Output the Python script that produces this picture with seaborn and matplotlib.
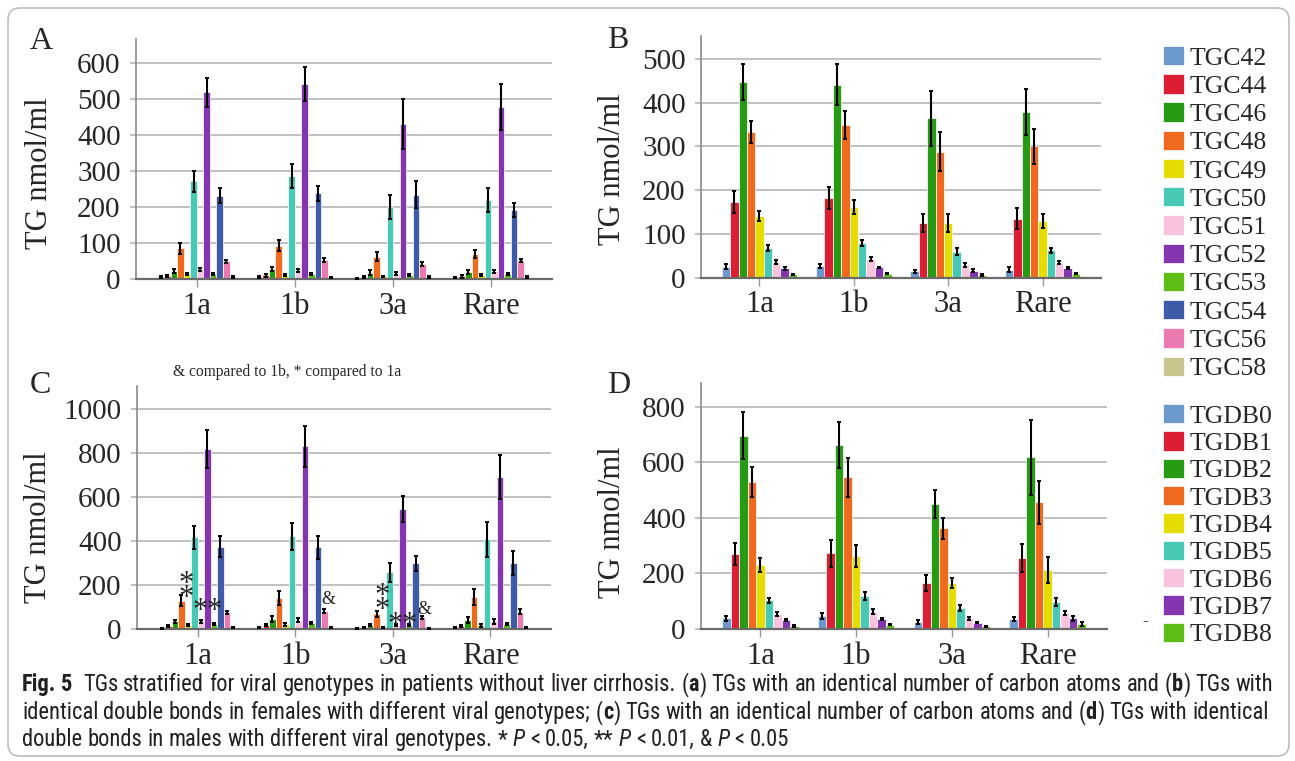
import numpy as np
import pandas as pd
import matplotlib
matplotlib.use('Agg')
import matplotlib.pyplot as plt
import seaborn as sns
from matplotlib import font_manager
from matplotlib.patches import FancyBboxPatch
from matplotlib.transforms import IdentityTransform

genotypes = ['1a', '1b', '3a', 'Rare']
tgc_labels = ['TGC42', 'TGC44', 'TGC46', 'TGC48', 'TGC49', 'TGC50',
              'TGC51', 'TGC52', 'TGC53', 'TGC54', 'TGC56', 'TGC58']
tgdb_labels = ['TGDB0', 'TGDB1', 'TGDB2', 'TGDB3', 'TGDB4',
               'TGDB5', 'TGDB6', 'TGDB7', 'TGDB8']
colors = ['#6b98cd', '#dc1e35', '#259a12', '#ef6a1e', '#e6dc00', '#47c9b4',
          '#f9c3de', '#8436b0', '#5dbd14', '#3f5aa8', '#ea7bb0', '#c9c58e']

# rows = series, columns = genotypes (1a, 1b, 3a, Rare)
# A: females, carbon atoms
a_mean = [[5, 5, 2, 4], [9, 10, 6, 7], [23, 28, 18, 19], [85, 93, 62, 69],
          [14, 12, 7, 10], [272, 286, 200, 219], [26, 24, 15, 21],
          [519, 542, 430, 477], [15, 14, 10, 14], [232, 238, 234, 192],
          [49, 53, 41, 51], [5, 4, 5, 6]]
a_err = [[2, 2, 1, 2], [3, 4, 3, 3], [6, 6, 6, 6], [15, 16, 13, 12],
         [3, 3, 2, 3], [29, 33, 33, 33], [4, 4, 5, 5], [40, 47, 70, 64],
         [3, 3, 3, 3], [20, 21, 38, 20], [5, 5, 6, 5], [2, 2, 2, 2]]

# B: females, double bonds
b_mean = [[26, 27, 15, 19], [173, 183, 125, 135], [447, 441, 364, 379],
          [333, 349, 288, 300], [141, 162, 126, 129], [69, 80, 60, 63],
          [37, 43, 30, 35], [22, 24, 17, 23], [8, 10, 7, 10]]
b_err = [[6, 5, 4, 5], [25, 25, 20, 24], [41, 47, 63, 53], [25, 31, 45, 40],
         [12, 17, 21, 16], [7, 7, 8, 6], [5, 4, 5, 4], [3, 2, 3, 3],
         [1.5, 1.5, 1.5, 2]]

# C: males, carbon atoms
c_mean = [[3, 8, 3, 7], [12, 18, 8, 15], [35, 45, 18, 42], [129, 140, 70, 146],
          [17, 21, 8, 18], [418, 421, 257, 408], [35, 40, 20, 35],
          [819, 831, 546, 693], [23, 26, 17, 23], [375, 372, 298, 301],
          [76, 80, 53, 79], [6, 6, 4, 6]]
c_err = [[2, 3, 1, 3], [4, 6, 3, 5], [8, 12, 5, 13], [24, 31, 14, 35],
         [5, 6, 2, 7], [52, 63, 42, 80], [7, 8, 5, 10], [88, 94, 60, 100],
         [5, 4, 4, 6], [49, 52, 35, 55], [8, 9, 7, 13], [3, 2, 2, 3]]

# D: males, double bonds
d_mean = [[38, 47, 25, 37], [270, 272, 165, 256], [696, 662, 451, 618],
          [530, 546, 362, 456], [231, 262, 164, 213], [103, 120, 75, 97],
          [53, 63, 38, 57], [32, 36, 23, 38], [12, 16, 10, 18]]
d_err = [[8, 12, 8, 7], [40, 48, 28, 50], [84, 83, 50, 135], [55, 70, 38, 78],
         [25, 40, 18, 48], [10, 15, 10, 15], [7, 8, 6, 7], [4, 5, 3, 8],
         [3, 3, 2, 6]]

# significance marks in C: (genotype index, x offset, value, text)
c_marks = [(0, -0.112, 209, '*\n*'),
           (0, 0.03, 118, '*'), (0, 0.173, 118, '*'),
           (1, 0.337, 141, '&'),
           (2, -0.112, 152, '*\n*'),
           (2, 0.02, 55, '*'), (2, 0.163, 55, '*'),
           (2, 0.327, 95, '&')]

sns.set_theme(style='white')
plt.rcParams['font.family'] = ['Liberation Serif', 'DejaVu Serif']

W, H = 1295, 761
fig = plt.figure(figsize=(W / 100, H / 100), dpi=100)


def px_axes(left, top, right, bottom):
    return fig.add_axes([left / W, 1 - bottom / H, (right - left) / W, (bottom - top) / H])


def panel(ax, means, errs, labels, ymax, ystep, legend):
    rows = [(g, lab, means[i][j]) for i, lab in enumerate(labels) for j, g in enumerate(genotypes)]
    df = pd.DataFrame(rows, columns=['genotype', 'species', 'value'])
    sns.barplot(data=df, x='genotype', y='value', hue='species', order=genotypes,
                hue_order=labels, palette=colors[:len(labels)], errorbar=None,
                saturation=1, width=0.8, edgecolor='white', linewidth=0.5,
                legend=legend, ax=ax)
    bar_sets = list(ax.containers)
    for i, bars in enumerate(bar_sets):
        xs = [b.get_x() + b.get_width() / 2 for b in bars]
        ys = [b.get_height() for b in bars]
        ax.errorbar(xs, ys, yerr=errs[i], fmt='none', ecolor='black',
                    elinewidth=1.5, capsize=1.6, capthick=1.4, zorder=4)
    ax.set_xlim(-0.62, 3.62)
    ax.set_ylim(0, ymax)
    ax.set_yticks(np.arange(0, ymax, ystep))
    ax.set_xlabel('')
    ax.set_ylabel('TG nmol/ml', fontsize=22)
    ax.yaxis.grid(True, color='#c0c0c0', linewidth=1.4)
    ax.set_axisbelow(True)
    for s in ['top', 'right']:
        ax.spines[s].set_visible(False)
    ax.spines['left'].set_color('#8a8a8a')
    ax.spines['left'].set_linewidth(1.2)
    ax.spines['bottom'].set_color('#6a6a6a')
    ax.spines['bottom'].set_linewidth(1.6)
    ax.tick_params(axis='x', length=6, width=1, color='#999999', pad=3, labelsize=22, bottom=True)
    ax.tick_params(axis='y', length=4, width=1.4, color='#c0c0c0', pad=7, labelsize=21, left=True)
    ax.set_facecolor('white')
    return ax


ax_a = panel(px_axes(136, 39, 552, 279), a_mean, a_err, tgc_labels, 667, 100, True)
ax_b = panel(px_axes(701, 36, 1101, 278), b_mean, b_err, tgdb_labels, 552, 100, False)
ax_c = panel(px_axes(137, 386, 551, 629), c_mean, c_err, tgc_labels, 1105, 200, False)
ax_d = panel(px_axes(701, 383, 1107, 629), d_mean, d_err, tgdb_labels, 886, 200, True)

ax_a.yaxis.set_label_coords(-0.197, 0.44)
ax_b.yaxis.set_label_coords(-0.185, 0.45)
ax_c.yaxis.set_label_coords(-0.203, 0.42)
ax_d.yaxis.set_label_coords(-0.182, 0.435)

# legends on the right
for ax, top, spacing in [(ax_a, 46, 0.18), (ax_d, 404, 0.145)]:
    old = ax.get_legend()
    handles = old.legend_handles
    labels = [t.get_text() for t in old.get_texts()]
    old.remove()
    ax.legend(handles, labels, loc='upper left', bbox_to_anchor=(1163 / W, 1 - top / H),
              bbox_transform=fig.transFigure, frameon=False, fontsize=18.5,
              handlelength=0.8, handleheight=0.78, handletextpad=0.25,
              labelspacing=spacing, borderpad=0, borderaxespad=0)

# panel letters
for lab, x, y in [('A', 30, 49), ('B', 607, 48), ('C', 30, 393), ('D', 607, 393)]:
    fig.text(x / W, 1 - y / H, lab, fontsize=23, va='baseline', ha='left')

fig.text(287 / W, 1 - 372 / H, '& compared to 1b, * compared to 1a',
         fontsize=11.2, ha='center', va='center')

for gi, off, val, txt in c_marks:
    if txt == '&':
        ax_c.annotate(txt, (gi + off, val), xytext=(0, -0.34 * 13), textcoords='offset points',
                      ha='center', va='baseline', fontsize=13, zorder=5)
    else:
        ax_c.annotate(txt, (gi + off, val), xytext=(0, -0.27 * 22), textcoords='offset points',
                      ha='center', va='center', fontsize=22, linespacing=0.33, zorder=5)

fig.text(1145 / W, 1 - 621 / H, '-', fontsize=12, ha='center', va='center')

# outer frame
fig.patches.append(FancyBboxPatch((8, 5), 1281, 748, boxstyle='round,pad=0,rounding_size=12',
                                  transform=IdentityTransform(), fill=False,
                                  edgecolor='#bdbdbd', linewidth=1.2))

# caption
names = {f.name for f in font_manager.fontManager.ttflist}
cap_family = next((n for n in ['Liberation Sans Narrow', 'Noto Sans Condensed',
                               'Roboto Condensed', 'Open Sans Condensed', 'Roboto']
                   if n in names), 'DejaVu Sans')

cap_lines = [
    [('Fig. 5', 'bold', 'normal'),
     ('  TGs stratified for viral genotypes in patients without liver cirrhosis. (', 'normal', 'normal'),
     ('a', 'bold', 'normal'), (') TGs with an identical number of carbon atoms and (', 'normal', 'normal'),
     ('b', 'bold', 'normal'), (') TGs with', 'normal', 'normal')],
    [('identical double bonds in females with different viral genotypes; (', 'normal', 'normal'),
     ('c', 'bold', 'normal'), (') TGs with an identical number of carbon atoms and (', 'normal', 'normal'),
     ('d', 'bold', 'normal'), (') TGs with identical', 'normal', 'normal')],
    [('double bonds in males with different viral genotypes. * ', 'normal', 'normal'),
     ('P', 'normal', 'italic'), (' < 0.05, ** ', 'normal', 'normal'),
     ('P', 'normal', 'italic'), (' < 0.01, & ', 'normal', 'normal'),
     ('P', 'normal', 'italic'), (' < 0.05', 'normal', 'normal')],
]
cap_base = [691, 719, 746]

renderer = fig.canvas.get_renderer()


def draw_line(parts, x0, y, size):
    probe = fig.text(0, 0, 'a a', fontsize=size, family=cap_family)
    w2 = probe.get_window_extent(renderer).width
    probe.set_text('aa')
    sp = w2 - probe.get_window_extent(renderer).width
    probe.remove()
    x = x0
    made = []
    for txt, weight, style in parts:
        pieces = txt.split(' ')
        for k, piece in enumerate(pieces):
            if k > 0:
                x += sp
            if piece:
                t = fig.text(x / W, 1 - y / H, piece, fontsize=size, family=cap_family,
                             fontweight=weight, fontstyle=style, color='#231f20',
                             ha='left', va='baseline')
                made.append(t)
                x = t.get_window_extent(renderer).x1
    return made, x


tmp, end = draw_line(cap_lines[0], 22, cap_base[0], 10)
for t in tmp:
    t.remove()
cap_size = 10 * (1265 - 22) / (end - 22)
for parts, yb in zip(cap_lines, cap_base):
    draw_line(parts, 22, yb, cap_size)

fig.savefig('out.png', dpi=100)
